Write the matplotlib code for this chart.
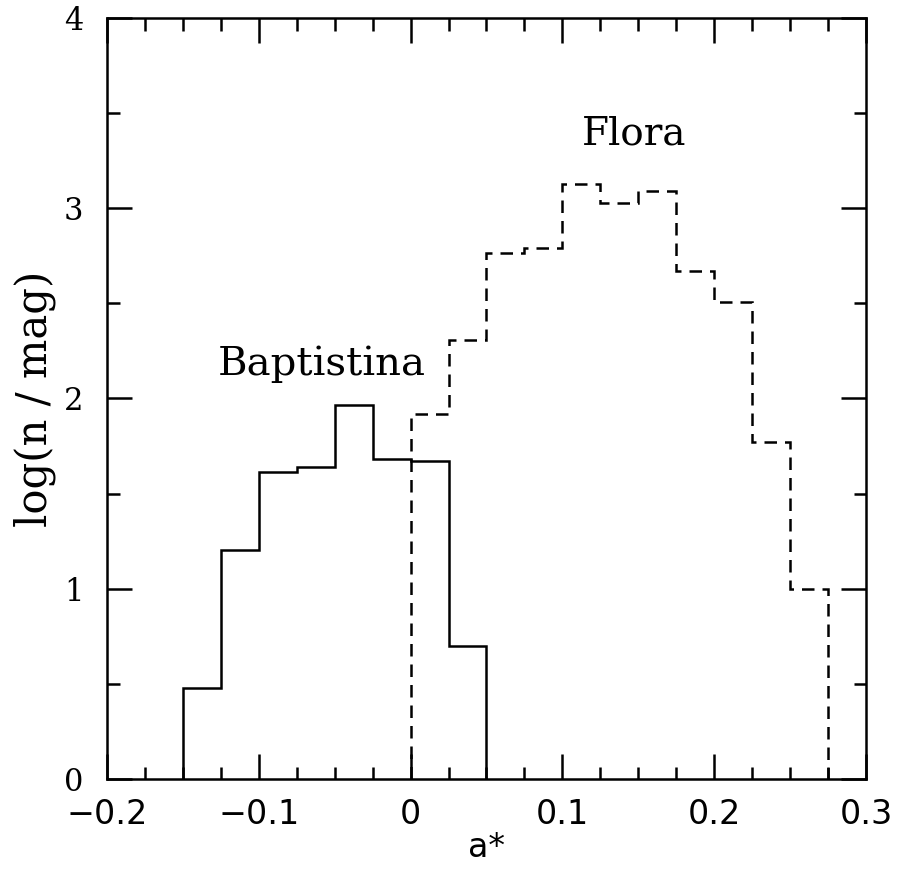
"""
Baptistina / Flora families: log(n/mag) histograms against a*
"""

import numpy as np
import matplotlib
matplotlib.use("Agg")
import matplotlib.pyplot as plt
from matplotlib.ticker import MultipleLocator

# bin edges (a*) and log(n / mag) per bin
baptistina_edges = [-0.150, -0.125, -0.100, -0.075, -0.050, -0.025, 0.000, 0.025, 0.050]
baptistina_logn = [0.477, 1.204, 1.612, 1.642, 1.967, 1.682, 1.673, 0.699]

flora_edges = [0.000, 0.025, 0.050, 0.075, 0.100, 0.125, 0.150, 0.175,
               0.200, 0.225, 0.250, 0.275]
flora_logn = [1.918, 2.31, 2.765, 2.79, 3.13, 3.03, 3.09, 2.672, 2.507, 1.773, 1.0]

x_ticks = [-0.2, -0.1, 0.0, 0.1, 0.2, 0.3]
x_ticklabels = ["\u22120.2", "\u22120.1", "0", "0.1", "0.2", "0.3"]
y_ticks = [0, 1, 2, 3, 4]

serif = "DejaVu Serif"
sans = "DejaVu Sans"

fig = plt.figure(figsize=(9, 8.82), dpi=100)
ax = fig.add_axes([0.1189, 0.1168, 0.8433, 0.8628])

lw = 1.8
ax.stairs(baptistina_logn, baptistina_edges, baseline=0, color="black", lw=lw)
ax.stairs(flora_logn, flora_edges, baseline=0, color="black", lw=lw,
          linestyle=(0, (5.0, 3.2)))

ax.set_xlim(-0.2, 0.3)
ax.set_ylim(0, 4)

ax.xaxis.set_major_locator(MultipleLocator(0.1))
ax.xaxis.set_minor_locator(MultipleLocator(0.025))
ax.yaxis.set_major_locator(MultipleLocator(1))
ax.yaxis.set_minor_locator(MultipleLocator(0.5))
ax.set_xticks(x_ticks)
ax.set_xticklabels(x_ticklabels, family=sans, fontsize=24)
ax.set_yticks(y_ticks)
ax.set_yticklabels([str(v) for v in y_ticks], family=serif, fontsize=22)

ax.tick_params(which="both", direction="in", top=True, right=True, width=lw)
ax.tick_params(which="major", length=18)
ax.tick_params(axis="x", which="major", pad=14)
ax.tick_params(axis="y", which="major", pad=17)
ax.tick_params(which="minor", length=9)
for s in ax.spines.values():
    s.set_linewidth(lw)

ax.set_xlabel("a*", family=sans, fontsize=24, labelpad=0)
ax.set_ylabel("log(n / mag)", family=serif, fontsize=30, labelpad=6)

ax.text(-0.0584, 2.18, "Baptistina", family=serif, fontsize=29,
        ha="center", va="center")
ax.text(0.147, 3.39, "Flora", family=serif, fontsize=28,
        ha="center", va="center")

fig.savefig("out.png", dpi=100)
